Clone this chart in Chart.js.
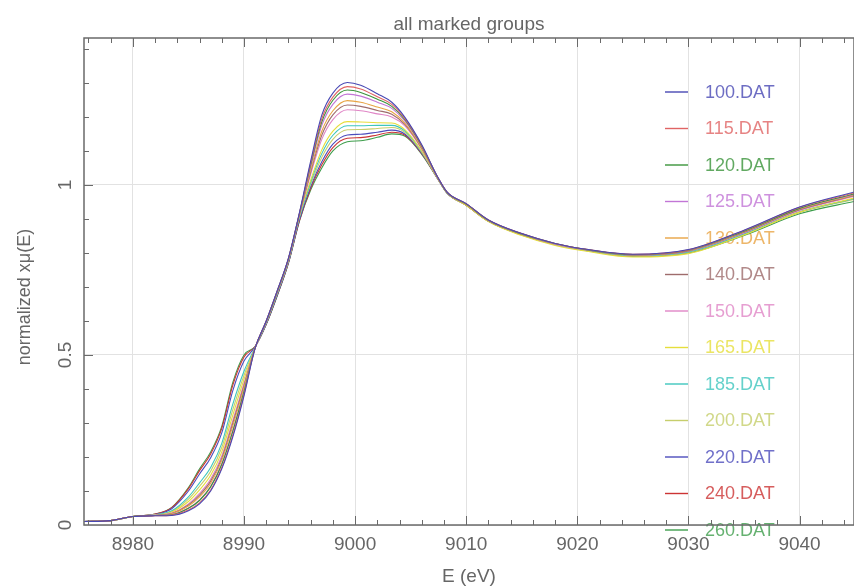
<!DOCTYPE html>
<html>
<head>
<meta charset="utf-8">
<title>all marked groups</title>
<script src="https://cdn.jsdelivr.net/npm/chart.js@4.4.1/dist/chart.umd.min.js"></script>
<style>
html, body { margin: 0; padding: 0; background: #ffffff; }
#wrap { width: 854px; height: 588px; }
</style>
</head>
<body>
<div id="wrap"><canvas id="xanes" width="854" height="588"></canvas></div>
<script>
// energy grid (eV) shared by all spectra
const energy = [8975.5, 8978, 8980, 8982, 8983.5, 8985, 8986, 8987, 8988, 8989, 8990, 8991, 8992, 8993, 8994, 8995, 8996, 8997, 8998, 8999.3, 9000.5, 9002, 9003.3, 9004.5, 9006, 9007.4, 9008.3, 9010, 9012, 9015, 9018, 9021, 9025, 9030, 9035, 9040, 9045];

const mu100 = [0.010, 0.013, 0.025, 0.027, 0.028, 0.042, 0.062, 0.100, 0.165, 0.260, 0.380, 0.520, 0.600, 0.690, 0.785, 0.920, 1.070, 1.205, 1.270, 1.301, 1.293, 1.268, 1.243, 1.198, 1.118, 1.025, 0.978, 0.945, 0.897, 0.857, 0.828, 0.810, 0.796, 0.810, 0.867, 0.935, 0.980];
const mu115 = [0.010, 0.013, 0.025, 0.027, 0.029, 0.044, 0.065, 0.103, 0.169, 0.265, 0.384, 0.520, 0.600, 0.689, 0.784, 0.918, 1.064, 1.194, 1.258, 1.289, 1.282, 1.259, 1.237, 1.194, 1.116, 1.025, 0.978, 0.945, 0.897, 0.857, 0.828, 0.810, 0.796, 0.809, 0.866, 0.934, 0.977];
const mu120 = [0.010, 0.013, 0.025, 0.028, 0.030, 0.049, 0.072, 0.112, 0.178, 0.276, 0.392, 0.520, 0.599, 0.688, 0.783, 0.917, 1.059, 1.185, 1.249, 1.279, 1.272, 1.252, 1.231, 1.191, 1.114, 1.024, 0.977, 0.944, 0.896, 0.856, 0.828, 0.809, 0.795, 0.808, 0.864, 0.931, 0.974];
const mu125 = [0.010, 0.013, 0.025, 0.028, 0.031, 0.050, 0.074, 0.114, 0.180, 0.279, 0.394, 0.520, 0.599, 0.688, 0.783, 0.917, 1.053, 1.175, 1.237, 1.267, 1.261, 1.243, 1.225, 1.187, 1.113, 1.024, 0.977, 0.944, 0.896, 0.856, 0.827, 0.809, 0.795, 0.808, 0.864, 0.931, 0.973];
const mu130 = [0.010, 0.013, 0.025, 0.028, 0.033, 0.056, 0.083, 0.123, 0.190, 0.292, 0.404, 0.521, 0.598, 0.687, 0.782, 0.915, 1.044, 1.158, 1.218, 1.248, 1.243, 1.229, 1.215, 1.181, 1.109, 1.023, 0.977, 0.943, 0.896, 0.856, 0.827, 0.809, 0.794, 0.807, 0.862, 0.929, 0.971];
const mu140 = [0.010, 0.013, 0.025, 0.028, 0.034, 0.059, 0.088, 0.129, 0.196, 0.300, 0.410, 0.521, 0.598, 0.686, 0.781, 0.914, 1.038, 1.146, 1.206, 1.235, 1.231, 1.219, 1.208, 1.177, 1.107, 1.023, 0.977, 0.943, 0.895, 0.855, 0.827, 0.808, 0.794, 0.806, 0.861, 0.927, 0.969];
const mu150 = [0.010, 0.013, 0.025, 0.029, 0.035, 0.062, 0.093, 0.135, 0.203, 0.308, 0.416, 0.521, 0.597, 0.685, 0.780, 0.912, 1.031, 1.134, 1.192, 1.221, 1.218, 1.209, 1.200, 1.173, 1.105, 1.022, 0.977, 0.943, 0.895, 0.855, 0.826, 0.808, 0.793, 0.805, 0.859, 0.925, 0.967];
const mu165 = [0.010, 0.013, 0.025, 0.029, 0.038, 0.069, 0.103, 0.146, 0.215, 0.324, 0.428, 0.522, 0.596, 0.684, 0.779, 0.910, 1.014, 1.103, 1.158, 1.186, 1.185, 1.183, 1.182, 1.162, 1.099, 1.021, 0.976, 0.940, 0.892, 0.851, 0.822, 0.804, 0.788, 0.798, 0.853, 0.920, 0.962];
const mu185 = [0.010, 0.013, 0.025, 0.030, 0.042, 0.083, 0.124, 0.169, 0.240, 0.356, 0.452, 0.523, 0.594, 0.681, 0.776, 0.905, 1.008, 1.092, 1.146, 1.174, 1.174, 1.175, 1.175, 1.158, 1.098, 1.021, 0.976, 0.942, 0.894, 0.854, 0.826, 0.807, 0.792, 0.803, 0.856, 0.921, 0.960];
const mu200 = [0.010, 0.013, 0.025, 0.030, 0.040, 0.076, 0.114, 0.158, 0.228, 0.340, 0.440, 0.522, 0.595, 0.683, 0.778, 0.908, 1.002, 1.081, 1.134, 1.162, 1.163, 1.166, 1.169, 1.154, 1.096, 1.021, 0.976, 0.941, 0.894, 0.854, 0.825, 0.806, 0.791, 0.802, 0.855, 0.919, 0.958];
const mu220 = [0.010, 0.013, 0.025, 0.031, 0.048, 0.100, 0.150, 0.198, 0.271, 0.396, 0.482, 0.524, 0.591, 0.677, 0.772, 0.899, 0.995, 1.068, 1.120, 1.147, 1.149, 1.155, 1.161, 1.149, 1.093, 1.020, 0.975, 0.941, 0.894, 0.854, 0.826, 0.808, 0.793, 0.805, 0.860, 0.927, 0.970];
const mu240 = [0.010, 0.013, 0.025, 0.032, 0.051, 0.107, 0.160, 0.209, 0.284, 0.412, 0.494, 0.525, 0.590, 0.676, 0.771, 0.896, 0.990, 1.059, 1.110, 1.137, 1.139, 1.147, 1.155, 1.146, 1.092, 1.020, 0.975, 0.940, 0.893, 0.853, 0.825, 0.807, 0.791, 0.802, 0.855, 0.920, 0.960];
const mu260 = [0.010, 0.013, 0.025, 0.032, 0.052, 0.110, 0.165, 0.215, 0.290, 0.420, 0.500, 0.525, 0.590, 0.675, 0.770, 0.895, 0.985, 1.050, 1.100, 1.127, 1.130, 1.140, 1.150, 1.143, 1.090, 1.020, 0.975, 0.940, 0.893, 0.853, 0.825, 0.806, 0.790, 0.800, 0.851, 0.915, 0.952];

const names = ['100.DAT', '115.DAT', '120.DAT', '125.DAT', '130.DAT', '140.DAT', '150.DAT', '165.DAT', '185.DAT', '200.DAT', '220.DAT', '240.DAT', '260.DAT'];
const spectra = [mu100, mu115, mu120, mu125, mu130, mu140, mu150, mu165, mu185, mu200, mu220, mu240, mu260];
const colors = ['#4848b4', '#e06464', '#3a943a', '#c276d6', '#e8a444', '#9e6c6c', '#e086c6', '#e6de3c', '#3ec6be', '#c6ce6c', '#4c4cbc', '#cc3434', '#3e9e4c'];

const xTicks = [8980, 8990, 9000, 9010, 9020, 9030, 9040];
const yTicks = [0, 0.5, 1];
const yTickLabels = ['0', '0.5', '1'];

const fontFamily = "'Liberation Sans', 'DejaVu Sans', sans-serif";
const textGrey = '#666666';
const gridGrey = '#e2e2e2';
const frameGrey = '#6a6a6a';

// legend, frame, inward ticks, rotated y labels and titles
const decorPlugin = {
    id: 'decor',
    beforeDatasetsDraw(chart) {
        const ctx = chart.ctx;
        ctx.save();
        ctx.font = '18px ' + fontFamily;
        ctx.textAlign = 'left';
        ctx.textBaseline = 'middle';
        chart.data.datasets.forEach((ds, i) => {
            const y = 92 + i * 36.5;
            ctx.globalAlpha = 1;
            ctx.strokeStyle = ds.borderColor;
            ctx.lineWidth = 1.4;
            ctx.beginPath();
            ctx.moveTo(665, y);
            ctx.lineTo(688, y);
            ctx.stroke();
            ctx.globalAlpha = 0.8;
            ctx.fillStyle = ds.borderColor;
            ctx.fillText(ds.label, 705, y + 1);
        });
        ctx.restore();
    },
    afterDatasetsDraw(chart) {
        const ctx = chart.ctx;
        const area = chart.chartArea;
        const xs = chart.scales.x;
        const ys = chart.scales.y;
        ctx.save();
        ctx.strokeStyle = frameGrey;
        ctx.lineWidth = 1.5;
        ctx.strokeRect(area.left, area.top, area.right - area.left, area.bottom - area.top);

        ctx.lineWidth = 1;
        ctx.beginPath();
        for (let e = 8976; e <= 9044; e += 2) {
            const px = Math.round(xs.getPixelForValue(e)) + 0.5;
            const len = e % 10 === 0 ? 9 : 5;
            ctx.moveTo(px, area.bottom);
            ctx.lineTo(px, area.bottom - len);
            ctx.moveTo(px, area.top);
            ctx.lineTo(px, area.top + len);
        }
        for (let k = 1; k <= 14; k++) {
            const py = Math.round(ys.getPixelForValue(k / 10)) + 0.5;
            const len = k % 5 === 0 ? 9 : 5;
            ctx.moveTo(area.left, py);
            ctx.lineTo(area.left + len, py);
        }
        ctx.stroke();

        // title over the plot
        ctx.fillStyle = textGrey;
        ctx.font = '19px ' + fontFamily;
        ctx.textAlign = 'center';
        ctx.textBaseline = 'middle';
        ctx.fillText('all marked groups', (area.left + area.right) / 2, 25);

        // rotated y tick labels
        yTicks.forEach((v, i) => {
            ctx.save();
            ctx.translate(66, ys.getPixelForValue(v));
            ctx.rotate(-Math.PI / 2);
            ctx.fillText(yTickLabels[i], 0, 0);
            ctx.restore();
        });

        // y axis title
        ctx.save();
        ctx.translate(25, 297);
        ctx.rotate(-Math.PI / 2);
        ctx.font = '18px ' + fontFamily;
        ctx.fillText('normalized xμ(E)', 0, 0);
        ctx.restore();

        ctx.restore();
    }
};

const datasets = spectra.map((mu, i) => ({
    label: names[i],
    data: energy.map((e, j) => ({ x: e, y: mu[j] })),
    borderColor: colors[i],
    backgroundColor: colors[i],
    borderWidth: 1.1,
    pointRadius: 0,
    fill: false,
    cubicInterpolationMode: 'monotone'
}));

new Chart(document.getElementById('xanes').getContext('2d'), {
    type: 'line',
    data: { datasets: datasets },
    options: {
        responsive: false,
        animation: false,
        layout: { padding: { top: 38, left: 0, right: 0, bottom: 0 } },
        plugins: {
            legend: { display: false },
            tooltip: { enabled: false },
            title: { display: false }
        },
        scales: {
            x: {
                type: 'linear',
                min: 8975.6,
                max: 9044.9,
                border: { display: false },
                grid: { color: gridGrey, drawTicks: false },
                afterBuildTicks: (scale) => { scale.ticks = xTicks.map(v => ({ value: v })); },
                afterFit: (scale) => { scale.height = 63; },
                ticks: {
                    color: textGrey,
                    padding: 8,
                    font: { family: fontFamily, size: 19 },
                    callback: (v) => String(v)
                },
                title: {
                    display: true,
                    text: 'E (eV)',
                    color: textGrey,
                    font: { family: fontFamily, size: 19 },
                    padding: { top: 0, bottom: 0 }
                }
            },
            y: {
                type: 'linear',
                min: 0,
                max: 1.432,
                border: { display: false },
                grid: { color: gridGrey, drawTicks: false },
                afterBuildTicks: (scale) => { scale.ticks = yTicks.map(v => ({ value: v })); },
                afterFit: (scale) => { scale.width = 84; },
                ticks: { display: false }
            }
        }
    },
    plugins: [decorPlugin]
});
</script>
</body>
</html>
